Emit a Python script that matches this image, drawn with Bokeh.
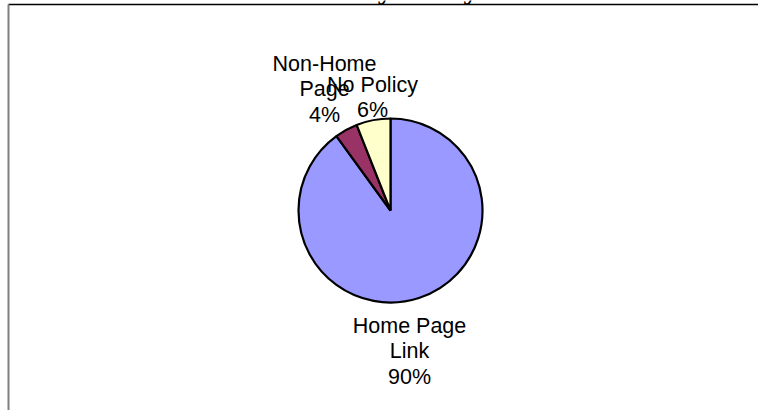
import math
from bokeh.plotting import figure
from bokeh.models import Range1d, ColumnDataSource
from bokeh.core.properties import value
from bokeh.embed import file_html
from bokeh.resources import INLINE

# ---- data ----
categories = ["Home Page Link", "Non-Home Page", "No Policy"]
percents = [90, 4, 6]
label_lines = [["Home Page", "Link", "90%"], ["Non-Home", "Page", "4%"], ["No Policy", "6%"]]
colors = ["#9999FF", "#993366", "#FFFFCC"]
title_text = "Privacy Policy"

# ---- layout (pixels, top-left origin) ----
W, H = 758, 410
CX, CY, R = 390, 210, 92
# first baseline of each label block (x center, y baseline), line step
label_anchor = [(409, 325), (324, 63), (372, 84)]
LINE_STEP = 25.8

def Y(y):
    return H - y

p = figure(width=W, height=H, output_backend="svg", toolbar_location=None,
           x_range=Range1d(0, W), y_range=Range1d(0, H), min_border=0)
p.axis.visible = False
p.grid.visible = False
p.outline_line_color = None
p.background_fill_color = "white"
p.border_fill_color = "white"

# title (mostly cut off above the page; only descenders show)
p.text(x=[386], y=[Y(-12)], text=[title_text], text_align="center",
       text_baseline="alphabetic", text_font=value("Liberation Serif"),
       text_font_style="bold", text_font_size="30px", text_color="black")

# chart area border
p.segment(x0=[8], y0=[Y(4)], x1=[W], y1=[Y(4)], line_color="black", line_width=1.5)
p.segment(x0=[8], y0=[Y(4)], x1=[8], y1=[Y(H + 5)], line_color="#808080", line_width=2)

# pie wedges: clockwise from 12 o'clock
total = sum(percents)
starts, ends = [], []
cum = 0.0
for v in percents:
    c0 = cum / total
    cum += v
    c1 = cum / total
    starts.append(math.pi / 2 - 2 * math.pi * c1)
    ends.append(math.pi / 2 - 2 * math.pi * c0)

src = ColumnDataSource(dict(x=[CX] * len(percents), y=[Y(CY)] * len(percents),
                            start=starts, end=ends, color=colors, cat=categories))
p.wedge(x="x", y="y", radius=R, start_angle="start", end_angle="end",
        direction="anticlock", fill_color="color", line_color="black",
        line_width=2.2, source=src)

# labels
xs, ys, ts = [], [], []
for (ax, ay), lines in zip(label_anchor, label_lines):
    for i, t in enumerate(lines):
        xs.append(ax)
        ys.append(Y(ay + i * LINE_STEP))
        ts.append(t)
p.text(x=xs, y=ys, text=ts, text_align="center", text_baseline="alphabetic",
       text_font=value("Liberation Sans"), text_font_size="21.5px", text_color="black")

open("out.html", "w").write(file_html(p, INLINE))
